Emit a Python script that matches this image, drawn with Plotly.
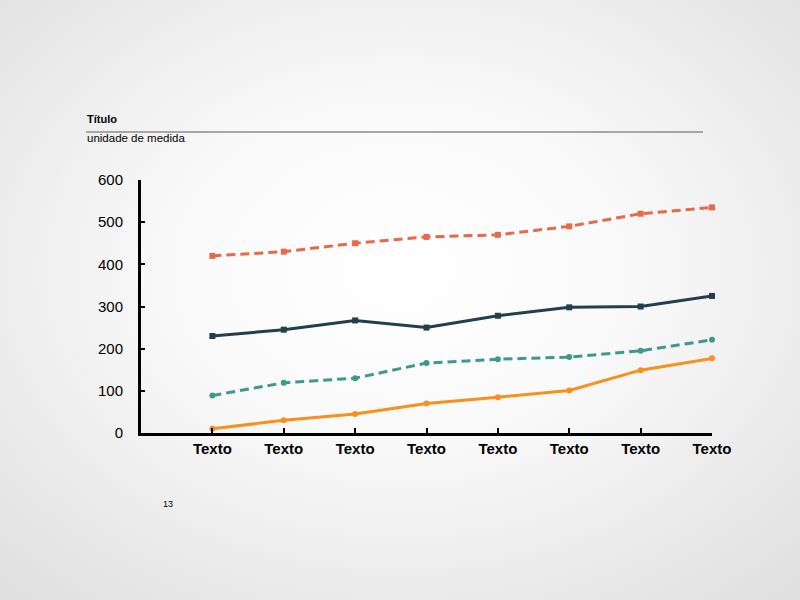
import plotly.graph_objects as go
import urllib.parse

categories = ["Texto"] * 8
x_idx = list(range(8))
serie_coral = [420, 430, 450, 465, 470, 490, 520, 535]
serie_navy = [230, 245, 267, 250, 278, 298, 300, 325]
serie_teal = [89, 119, 130, 166, 175, 180, 195, 221]
serie_orange = [10, 30, 45, 70, 85, 101, 149, 177]
y_ticks = [0, 100, 200, 300, 400, 500, 600]

W, H = 800, 600
L, R, T, B = 141, 88, 180, 167
pw, ph = W - L - R, H - T - B

def px(x):
    return (x - L) / pw

def py(y):
    return (H - B - y) / ph

font = "Arial, Liberation Sans, sans-serif"

fig = go.Figure()

def add(vals, color, dash, symbol):
    fig.add_trace(go.Scatter(
        x=x_idx, y=vals, mode="lines+markers",
        line=dict(color=color, width=3, dash=dash),
        marker=dict(symbol=symbol, size=6, color=color),
        cliponaxis=False, showlegend=False))

add(serie_coral, "#E6694B", "9px,5px", "square")
add(serie_navy, "#233F4E", "solid", "square")
add(serie_teal, "#3F9A85", "9px,5px", "circle")
add(serie_orange, "#F7901E", "solid", "circle")

svg = ('<svg xmlns="http://www.w3.org/2000/svg" width="800" height="600">'
       '<defs><radialGradient id="g" cx="50%" cy="45%" r="72%">'
       '<stop offset="0%" stop-color="#ffffff"/>'
       '<stop offset="40%" stop-color="#f9f9f9"/>'
       '<stop offset="100%" stop-color="#e0e0e0"/>'
       '</radialGradient></defs>'
       '<rect width="800" height="600" fill="url(#g)"/></svg>')
src = "data:image/svg+xml;charset=utf-8," + urllib.parse.quote(svg)

fig.update_layout(
    width=W, height=H,
    margin=dict(l=L, r=R, t=T, b=B, pad=0),
    paper_bgcolor="#eeeeee", plot_bgcolor="rgba(0,0,0,0)",
    font=dict(family=font, color="#000000", size=15),
    images=[dict(source=src, xref="paper", yref="paper",
                 x=px(0), y=py(0), sizex=W / pw, sizey=H / ph,
                 xanchor="left", yanchor="top", sizing="stretch", layer="below")],
    xaxis=dict(range=[-1, 7], tickmode="array", tickvals=x_idx,
               ticktext=["<b>%s</b>" % c for c in categories],
               showgrid=False, zeroline=False, showline=True, linecolor="#000000",
               linewidth=3, ticks="inside", ticklen=5, tickwidth=2, tickcolor="#000000",
               ticklabelstandoff=0, tickfont=dict(size=15, family=font)),
    yaxis=dict(range=[0, 600], tickmode="array", tickvals=y_ticks,
               showgrid=False, zeroline=False, showline=True, linecolor="#000000",
               linewidth=3, ticks="inside", ticklen=4, tickwidth=2, tickcolor="#000000",
               ticklabelstandoff=12, tickfont=dict(size=15, family=font)),
    shapes=[dict(type="line", xref="paper", yref="paper",
                 x0=px(86), x1=px(703), y0=py(132), y1=py(132),
                 line=dict(color="#8c8c8c", width=1.5))],
    annotations=[
        dict(text="<b>Título</b>", xref="paper", yref="paper", x=px(85), y=py(119),
             xanchor="left", yanchor="middle", showarrow=False, font=dict(size=11, family=font)),
        dict(text="unidade de medida", xref="paper", yref="paper", x=px(85), y=py(138),
             xanchor="left", yanchor="middle", showarrow=False, font=dict(size=11.5, family=font)),
        dict(text="13", xref="paper", yref="paper", x=px(161), y=py(504),
             xanchor="left", yanchor="middle", showarrow=False, font=dict(size=9, family=font)),
    ],
)

fig.write_html("out.html", config={"displayModeBar": False},
               post_script="document.body.style.margin='0';")
